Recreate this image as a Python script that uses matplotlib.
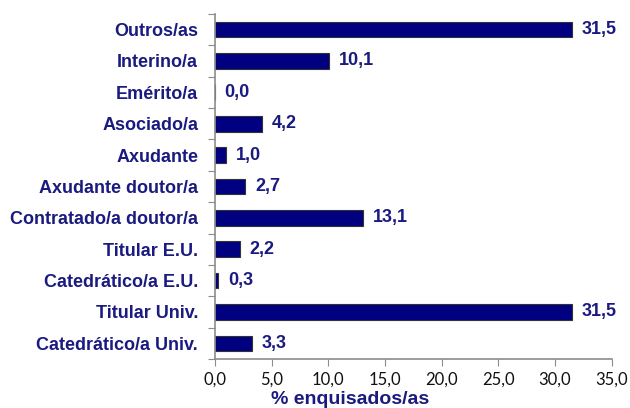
#!/usr/bin/env python3

import matplotlib
matplotlib.use('Agg')
import matplotlib.pyplot as plt
import numpy as np


# Data, bottom to top as drawn.
categories = [
    'Catedrático/a Univ.',
    'Titular Univ.',
    'Catedrático/a E.U.',
    'Titular E.U.',
    'Contratado/a doutor/a',
    'Axudante doutor/a',
    'Axudante',
    'Asociado/a',
    'Emérito/a',
    'Interino/a',
    'Outros/as',
]
values = [3.3, 31.5, 0.3, 2.2, 13.1, 2.7, 1.0, 4.2, 0.0, 10.1, 31.5]
xticks = np.arange(0, 35.1, 5)

navy = '#000080'
text_navy = '#1a1a80'
spine_gray = '#8c8c8c'

fig = plt.figure(figsize=(6.3, 4.08), dpi=100, facecolor='white')
ax = fig.add_axes((0.341, 0.120, 0.630, 0.846))

y = np.arange(len(categories))
ax.barh(y, values, height=0.5, color=navy, edgecolor='#333333', linewidth=0.8)

for yi, v in zip(y, values):
    ax.annotate(f'{v:.1f}'.replace('.', ','), (v, yi), xytext=(7, 0),
                textcoords='offset points', va='center', ha='left',
                fontsize=13, fontweight='bold', color=text_navy,
                family='Liberation Sans')

ax.set_xlim(0, 35)
ax.set_ylim(-0.5, len(categories) - 0.5)

# Category labels sit between the ticks (Excel style).
ax.set_yticks(np.arange(-0.5, len(categories), 1))
ax.set_yticklabels([])
ax.set_yticks(y, minor=True)
ax.set_yticklabels(categories, minor=True, fontsize=13, fontweight='bold',
                   color=text_navy, family='Liberation Sans')
ax.tick_params(axis='y', which='minor', length=0, pad=12)
ax.tick_params(axis='y', which='major', length=5, color=spine_gray)

ax.set_xticks(xticks)
ax.set_xticklabels([f'{t:.1f}'.replace('.', ',') for t in xticks],
                   fontsize=12, color='#111111', family='Lato')
ax.tick_params(axis='x', length=5, color=spine_gray, pad=4)

for side in ('top', 'right'):
    ax.spines[side].set_visible(False)
for side in ('left', 'bottom'):
    ax.spines[side].set_color(spine_gray)
    ax.spines[side].set_linewidth(1.2)

fig.text(350 / 630, 1 - 399 / 408, '% enquisados/as', ha='center', va='center',
         fontsize=14, fontweight='bold', color=text_navy,
         family='Liberation Sans')

fig.savefig('out.png', dpi=100, facecolor='white')
